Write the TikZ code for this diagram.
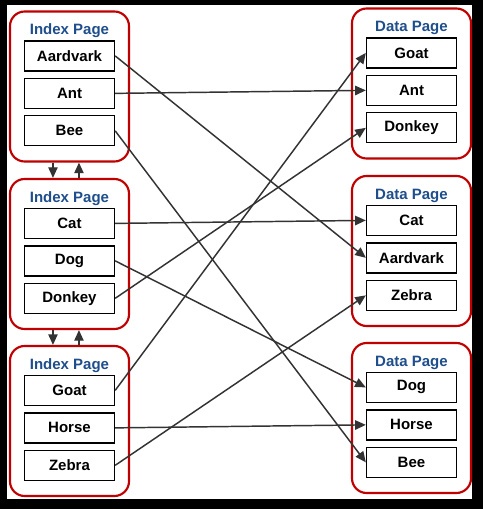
\documentclass[tikz,border=0pt]{standalone}
\usepackage{fontspec}
\setmainfont{Liberation Sans}
\usetikzlibrary{positioning,arrows.meta}

\definecolor{pagered}{RGB}{192,0,0}
\definecolor{ttlblue}{RGB}{31,78,140}
\definecolor{linkgray}{RGB}{51,51,51}

\tikzset{
  page/.style={draw=pagered,line width=1.6pt,rounded corners=11pt,
    minimum width=89.25pt,minimum height=112.5pt,inner sep=0pt},
  ttl/.style={text=ttlblue,inner sep=0pt,
    font=\fontsize{11.25}{13}\selectfont\bfseries},
  cell/.style={draw,line width=1pt,fill=white,minimum width=67.5pt,
    minimum height=22.5pt,inner sep=0pt,
    font=\fontsize{11.25}{13}\selectfont\bfseries},
  link/.style={draw=linkgray,line width=1.1pt,
    -{Triangle[length=8pt,width=7pt]}}
}

\begin{document}
\begin{tikzpicture}
                [x=0.75pt,y=-0.75pt,node distance=4.6pt]
                \fill[black] (0,0) rectangle (483,509);
                \fill[white] (7,5) rectangle (472,499);

                % index pages
                \node[page] (ip1) at (69.5,86.5) {};
                \node[ttl] (it1) at ([yshift=-15.5pt]ip1.north) {Index Page};
                \node[cell] (iAardvark) at ([yshift=-34.1pt]ip1.north) {Aardvark};
                \node[cell] (iAnt) [below=of iAardvark] {Ant};
                \node[cell] (iBee) [below=of iAnt] {Bee};

                \node[page] (ip2) at (69.5,254) {};
                \node[ttl] (it2) at ([yshift=-15.5pt]ip2.north) {Index Page};
                \node[cell] (iCat) at ([yshift=-34.1pt]ip2.north) {Cat};
                \node[cell] (iDog) [below=of iCat] {Dog};
                \node[cell] (iDonkey) [below=of iDog] {Donkey};

                \node[page] (ip3) at (69.5,421) {};
                \node[ttl] (it3) at ([yshift=-15.5pt]ip3.north) {Index Page};
                \node[cell] (iGoat) at ([yshift=-34.1pt]ip3.north) {Goat};
                \node[cell] (iHorse) [below=of iGoat] {Horse};
                \node[cell] (iZebra) [below=of iHorse] {Zebra};

                % data pages
                \node[page] (dp1) at (411.5,83.5) {};
                \node[ttl] (dt1) at ([yshift=-15.5pt]dp1.north) {Data Page};
                \node[cell] (dGoat) at ([yshift=-34.1pt]dp1.north) {Goat};
                \node[cell] (dAnt) [below=of dGoat] {Ant};
                \node[cell] (dDonkey) [below=of dAnt] {Donkey};

                \node[page] (dp2) at (411.5,251) {};
                \node[ttl] (dt2) at ([yshift=-15.5pt]dp2.north) {Data Page};
                \node[cell] (dCat) at ([yshift=-34.1pt]dp2.north) {Cat};
                \node[cell] (dAardvark) [below=of dCat] {Aardvark};
                \node[cell] (dZebra) [below=of dAardvark] {Zebra};

                \node[page] (dp3) at (411.5,418) {};
                \node[ttl] (dt3) at ([yshift=-15.5pt]dp3.north) {Data Page};
                \node[cell] (dDog) at ([yshift=-34.1pt]dp3.north) {Dog};
                \node[cell] (dHorse) [below=of dDog] {Horse};
                \node[cell] (dBee) [below=of dHorse] {Bee};

                \foreach \a in {Aardvark,Ant,Bee,Cat,Dog,Donkey,Goat,Horse,Zebra}
                {
                    \draw[link] (i\a.east) -- (d\a.west);
                }
                \foreach \p/\q in {1/2,2/3}
                {
                    \draw[link] ([xshift=-12.4pt]ip\p.south) -- ([xshift=-12.4pt]ip\q.north);
                    \draw[link] ([xshift=7.1pt]ip\q.north) -- ([xshift=7.1pt]ip\p.south);
                }
            \end{tikzpicture}
\end{document}
